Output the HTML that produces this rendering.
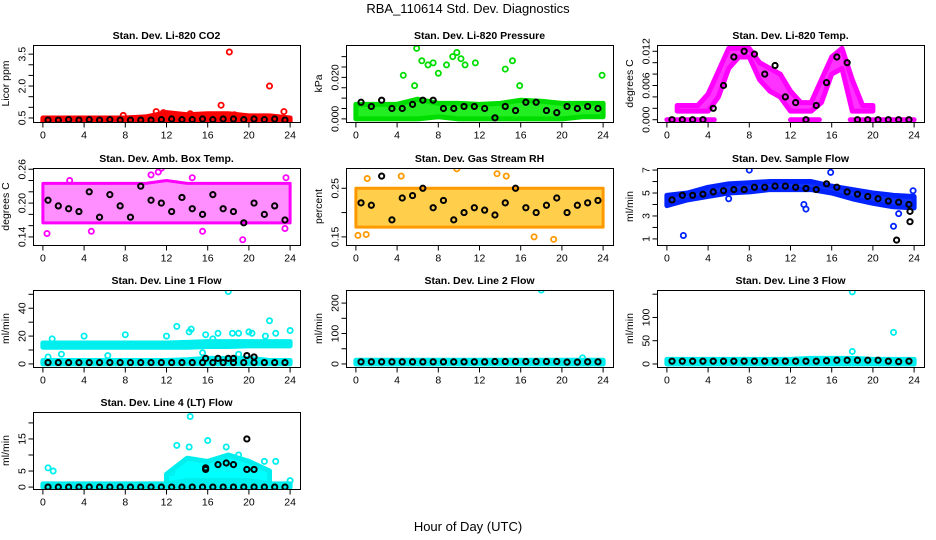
<!DOCTYPE html>
<html><head><meta charset="utf-8"><style>
body{margin:0;background:#fff}
svg{display:block;font-family:"Liberation Sans",sans-serif}
.t{font-weight:bold;font-size:10.5px}
.tk{font-size:10.5px}
</style></head><body>
<svg id="c" width="936" height="540" viewBox="0 0 936 540">
<text x="468" y="13" text-anchor="middle" font-size="13">RBA_110614  Std. Dev. Diagnostics</text>
<text x="468" y="531" text-anchor="middle" font-size="13">Hour of Day (UTC)</text>
</svg>
<script>
const knotHours=[0,2,4,6,8,10,12,14,16,18,20,22,24];
const hourly=[0,1,2,3,4,5,6,7,8,9,10,11,12,13,14,15,16,17,18,19,20,21,22,23,24];
const blackHours=[0.5,1.5,2.5,3.5,4.5,5.5,6.5,7.5,8.5,9.5,10.5,11.5,12.5,13.5,14.5,15.5,16.5,17.5,18.5,19.5,20.5,21.5,22.5,23.5];
const xTicks=[0,4,8,12,16,20,24];

const co2Lo=[0.33,0.33,0.33,0.33,0.33,0.33,0.35,0.35,0.35,0.35,0.35,0.35,0.33];
const co2Hi=[0.5,0.5,0.5,0.5,0.5,0.55,0.75,0.65,0.7,0.7,0.6,0.6,0.5];
const co2Black=[0.4,0.4,0.42,0.4,0.42,0.4,0.42,0.4,0.4,0.4,0.4,0.42,0.45,0.42,0.42,0.45,0.42,0.45,0.45,0.42,0.45,0.42,0.45,0.4];
const co2Out=[[18.1,3.6],[22,2.0],[17.3,1.1],[23.4,0.8],[11,0.8],[11.7,0.75],[7.8,0.62],[14.3,0.7],[18.6,0.65]];

const presLo=[0,0,0,0,0.001,0,0,0,0,0,0,0.001,0.001];
const presHi=[0.007,0.007,0.007,0.0095,0.0075,0.0075,0.007,0.0075,0.009,0.0085,0.0075,0.0075,0.0075];
const presBlack=[0.008,0.006,0.009,0.005,0.005,0.007,0.009,0.009,0.005,0.005,0.006,0.006,0.005,0.0005,0.006,0.004,0.008,0.008,0.004,0.003,0.006,0.005,0.006,0.005];
const presOut=[[5.9,0.034],[6.4,0.028],[7,0.026],[7.5,0.027],[8,0.022],[8.8,0.026],[9.4,0.030],[9.8,0.032],[10.2,0.029],[10.6,0.026],[11.6,0.027],[14.5,0.024],[15.2,0.028],[15.9,0.016],[4.6,0.021],[5.7,0.016],[23.9,0.021]];

const tempHi=[null,0.0025,0.0025,0.0025,0.0045,0.0085,0.0125,0.0125,0.0125,0.010,0.009,0.008,0.005,0.003,0.003,0.007,0.011,0.0125,0.007,0.0025,0.0025,null,null,null,null];
const tempLo=[null,0.0015,0.0015,0.0015,0.0015,0.004,0.009,0.011,0.011,0.007,0.005,0.004,0.0015,0.0015,0.0015,0.003,0.008,0.009,0.0015,0.0015,0.0015,null,null,null,null];
const tempZeroRanges=[[0,4.6],[12,14.8],[17.8,24]];
const tempBlack=[0,0,0,0,0.002,0.006,0.011,0.012,0.0115,0.008,0.0095,0.004,0.003,0,0.0025,0.0065,0.011,0.01,0,0,0,0,0,0];

const ambLo=[0.165,0.165,0.165,0.165,0.165,0.165,0.165,0.165,0.165,0.165,0.165,0.165,0.165];
const ambHi=[0.235,0.235,0.235,0.235,0.235,0.235,0.24,0.235,0.235,0.235,0.235,0.235,0.235];
const ambBlack=[0.205,0.195,0.19,0.185,0.22,0.175,0.215,0.195,0.175,0.23,0.205,0.2,0.185,0.21,0.19,0.18,0.215,0.19,0.185,0.165,0.2,0.18,0.195,0.17];
const ambOut=[[0.4,0.146],[2.6,0.24],[4.7,0.15],[10.5,0.25],[11.2,0.255],[11.5,0.262],[14.5,0.245],[19.4,0.135],[23.6,0.245],[15.5,0.15],[23.5,0.155]];

const rhLo=[0.17,0.17,0.17,0.17,0.17,0.17,0.17,0.17,0.17,0.17,0.17,0.17,0.17];
const rhHi=[0.25,0.25,0.25,0.25,0.25,0.25,0.25,0.25,0.25,0.25,0.25,0.25,0.25];
const rhBlack=[0.22,0.215,0.275,0.185,0.23,0.235,0.25,0.21,0.225,0.185,0.2,0.21,0.205,0.195,0.22,0.25,0.21,0.2,0.215,0.23,0.2,0.215,0.22,0.225];
const rhOut=[[1.1,0.27],[4.4,0.275],[0.2,0.153],[1,0.155],[9.8,0.29],[13.7,0.28],[14.6,0.275],[19.2,0.145],[17.3,0.15]];

const flowLo=[3.9,4.4,4.7,5.0,5.1,5.3,5.3,5.3,5.0,4.5,4.1,3.8,3.7];
const flowHi=[4.8,5.0,5.5,5.8,5.9,6.0,6.0,6.0,5.6,5.3,5.0,4.8,4.7];
const flowBlack=[4.4,4.8,4.8,4.9,5.1,5.2,5.3,5.3,5.5,5.5,5.6,5.6,5.5,5.4,5.3,5.8,5.5,5.1,4.9,4.7,4.5,4.3,4.2,4.0];
const flowOut=[[1.6,1.3],[8,7],[15.9,6.8],[13.3,4.0],[13.5,3.6],[6,4.5],[22,2.1],[23.9,5.2],[22.5,3.2]];
const flowBlackOut=[[22.3,0.9],[23.6,2.5],[23.6,3.4]];

const l1Lo=[12,12,12,12,12,12,12,12,12.5,12.5,13,13,13];
const l1Hi=[15,15,15,15,15,15,15,15.5,16,16,16,16,16];
const l1Lo2=[0,0,0,0,0,0,0,0,0,0,0,0,0];
const l1Hi2=[2.5,2.5,2.5,2.5,2.5,2.5,2.5,3,4,4,4,2.5,2.5];
const l1Black=[1,1,1,1,1,1,1,1,1,1,1,1,1,1,1,1,1,1,1,1,1,1,1,1];
const l1Out=[[0.9,18],[4,20],[8,21],[6.3,6],[12,20],[13,27],[14.2,23],[14.4,25],[15.8,21],[17,22],[18,52],[18.4,22],[19,22],[20,23],[20.3,22],[22,31],[22.6,22],[24,24],[21.6,20],[16.5,18],[0.5,5],[1.8,7],[15.5,8],[19,7]];
const l1BlackOut=[[15.8,4],[17,4],[18,4],[18.5,4],[19.8,6],[20.5,5]];

const l2Lo=[0,0,0,0,0,0,0,0,0,0,0,0,0];
const l2Hi=[12,12,12,12,12,12,12,12,12,12,12,12,12];
const l2Black=[7,7,7,7,7,7,7,7,7,7,7,7,7,8,8,8,8,8,8,8,6,6,7,7];
const l2Out=[[18,243],[22,20]];

const l3Lo=[0,0,0,0,0,0,0,0,0,0,0,0,0];
const l3Hi=[10,10,10,10,10,10,10,12,12,12,10,10,10];
const l3Black=[6,6,6,6,6,6,6,6,6,6,6,6,6,6,6,7,8,8,8,8,8,6,5,6];
const l3Out=[[18,155],[22,68],[18,27]];

const l4Lo=[0,0,0,0,0,0,0,0,0,0,0,0,0];
const l4Hi=[1,1,1,1,1,1,1,1,1,1,1,1,1];
const l4CloudHours=[12,14,16,18,20,22];
const l4CloudLo=[1,2,2,2,2,1];
const l4CloudHi=[4,9,8,10,8,5];
const l4Black=[0,0,0,0,0,0,0,0,0,0,0,0,0,0,0,0,0,0,0,0,0,0,0,0];
const l4Out=[[0.5,6],[1,5],[14.3,22],[13,13],[14.2,12.5],[16,14.5],[17.8,12.5],[19,10],[22.6,8],[21.5,8],[12.5,4.5],[24,2]];
const l4BlackOut=[[15.8,6],[15.8,5.5],[17,7],[17.8,7.5],[18.5,7],[19.8,15],[19.8,5.5],[20.5,5.5]];

const NS='http://www.w3.org/2000/svg';
const svg=document.getElementById('c');
function mk(tag,attrs,parent){const e=document.createElementNS(NS,tag);for(const k in attrs)e.setAttribute(k,attrs[k]);(parent||svg).appendChild(e);return e;}

const colX=[33,346,657], rowY=[45,168,290,412], W=267, H=77;

const panels=[
 {name:'co2',title:'Stan. Dev. Li-820 CO2',ylab:'Licor ppm',c:0,r:0,ymin:0.31,ymax:3.93,ticks:[0.5,1,1.5,2,2.5,3,3.5],labels:[0.5,2,3.5],fmt:v=>v.toFixed(1),color:'#ff0000',fill:'#ff0000',bands:[[knotHours,co2Lo,co2Hi]],black:co2Black,out:co2Out,bout:[]},
 {name:'pressure',title:'Stan. Dev. Li-820 Pressure',ylab:'kPa',c:1,r:0,ymin:-0.0015,ymax:0.0356,ticks:[0,0.005,0.01,0.015,0.02,0.025,0.03],labels:[0,0.02],fmt:v=>v.toFixed(3),color:'#00dd00',fill:'#22ee22',bands:[[knotHours,presLo,presHi]],black:presBlack,out:presOut,bout:[]},
 {name:'temp',title:'Stan. Dev. Li-820 Temp.',ylab:'degrees C',c:2,r:0,ymin:-0.0004,ymax:0.0131,ticks:[0,0.002,0.004,0.006,0.008,0.01,0.012],labels:[0,0.006,0.012],fmt:v=>v.toFixed(3),color:'#ff00ff',fill:'#ff33ff',bands:[[hourly,tempLo,tempHi]],zero:tempZeroRanges,black:tempBlack,out:[],bout:[]},
 {name:'amb-temp',title:'Stan. Dev. Amb. Box Temp.',ylab:'degrees C',c:0,r:1,ymin:0.1257,ymax:0.2622,ticks:[0.14,0.16,0.18,0.2,0.22,0.24,0.26],labels:[0.14,0.2,0.26],fmt:v=>v.toFixed(2),color:'#ff00ff',fill:'#ff44ff',op:0.6,sw:3,bands:[[knotHours,ambLo,ambHi]],black:ambBlack,out:ambOut,bout:[]},
 {name:'rh',title:'Stan. Dev. Gas Stream RH',ylab:'percent',c:1,r:1,ymin:0.1333,ymax:0.2917,ticks:[0.15,0.2,0.25],labels:[0.15,0.25],fmt:v=>v.toFixed(2),color:'#ff9900',fill:'#ffbb00',op:0.7,sw:3,bands:[[knotHours,rhLo,rhHi]],black:rhBlack,out:rhOut,bout:[]},
 {name:'sample-flow',title:'Stan. Dev. Sample Flow',ylab:'ml/min',c:2,r:1,ymin:0.47,ymax:7.18,ticks:[1,2,3,4,5,6,7],labels:[1,3,5,7],fmt:v=>String(v),color:'#0022ff',fill:'#1133ff',bands:[[knotHours,flowLo,flowHi]],black:flowBlack,out:flowOut,bout:flowBlackOut},
 {name:'line1-flow',title:'Stan. Dev. Line 1 Flow',ylab:'ml/min',c:0,r:2,ymin:-2.2,ymax:53.1,ticks:[0,10,20,30,40,50],labels:[0,20,40],fmt:v=>String(v),color:'#00eeee',fill:'#00ffff',bands:[[knotHours,l1Lo,l1Hi],[knotHours,l1Lo2,l1Hi2]],black:l1Black,out:l1Out,bout:l1BlackOut},
 {name:'line2-flow',title:'Stan. Dev. Line 2 Flow',ylab:'ml/min',c:1,r:2,ymin:-10,ymax:243,ticks:[0,50,100,150,200],labels:[0,100,200],fmt:v=>String(v),color:'#00eeee',fill:'#00ffff',bands:[[knotHours,l2Lo,l2Hi]],black:l2Black,out:l2Out,bout:[]},
 {name:'line3-flow',title:'Stan. Dev. Line 3 Flow',ylab:'ml/min',c:2,r:2,ymin:-6.5,ymax:159,ticks:[0,50,100,150],labels:[0,50,100],fmt:v=>String(v),color:'#00eeee',fill:'#00ffff',bands:[[knotHours,l3Lo,l3Hi]],black:l3Black,out:l3Out,bout:[]},
 {name:'line4-flow',title:'Stan. Dev. Line 4 (LT) Flow',ylab:'ml/min',c:0,r:3,ymin:-0.6,ymax:23.4,ticks:[0,5,10,15,20],labels:[0,5,15],fmt:v=>String(v),color:'#00eeee',fill:'#00ffff',bands:[[knotHours,l4Lo,l4Hi],[l4CloudHours,l4CloudLo,l4CloudHi]],black:l4Black,out:l4Out,bout:l4BlackOut}
];

panels.forEach(p=>{
  const x0=colX[p.c], y0=rowY[p.r];
  const g=mk('g',{});
  
  
  const X=h=>x0+W*(h+0.96)/25.92;
  const Y=v=>y0+H-(v-p.ymin)/(p.ymax-p.ymin)*H;
  const clipId='clip-'+p.name;
  const cp=mk('clipPath',{id:clipId},g);
  mk('rect',{x:x0,y:y0,width:W,height:H},cp);
  const inner=mk('g',{'clip-path':'url(#'+clipId+')'},g);
  p.bands.forEach(b=>{
    const [hs,lo,hi]=b;
    let seg=[];
    const flush=()=>{
      if(seg.length>1){
        const pts=seg.map(i=>X(hs[i])+','+Y(hi[i])).concat(seg.slice().reverse().map(i=>X(hs[i])+','+Y(lo[i])));
        const poly=mk('polygon',{points:pts.join(' '),fill:p.fill,'fill-opacity':p.op||1,stroke:p.color,'stroke-width':p.sw||5,'stroke-linejoin':'round'},inner);
        
        
      }
      seg=[];
    };
    hs.forEach((h,i)=>{ if(hi[i]===null||lo[i]===null) flush(); else seg.push(i); });
    flush();
  });
  if(p.zero){
    p.zero.forEach(z=>{
      const l=mk('line',{x1:X(z[0]),x2:X(z[1]),y1:Y(0),y2:Y(0),stroke:p.color,'stroke-width':5,'stroke-linecap':'round'},inner);
      
      
    });
  }
  p.out.forEach(o=>{
    const c=mk('circle',{cx:X(o[0]),cy:Y(o[1]),r:2.6,fill:'none',stroke:p.color,'stroke-width':1.8},inner);
    
    
  });
  p.black.forEach((v,i)=>{
    const c=mk('circle',{cx:X(blackHours[i]),cy:Y(v),r:2.6,fill:'none',stroke:'#000','stroke-width':2},inner);
    
    
  });
  p.bout.forEach(o=>{
    const c=mk('circle',{cx:X(o[0]),cy:Y(o[1]),r:2.6,fill:'none',stroke:'#000','stroke-width':2},inner);
    
    
  });
  const box=mk('rect',{x:x0+0.5,y:y0+0.5,width:W,height:H,fill:'none',stroke:'#000','stroke-width':1},g);
  
  
  const t=mk('text',{x:x0+W/2,y:y0-6,'text-anchor':'middle',class:'t'},g);
  t.textContent=p.title;
  
  
  const by=y0+H+0.5;
  xTicks.forEach(h=>{
    mk('line',{x1:X(h),x2:X(h),y1:by,y2:by+5,stroke:'#000'},g);
    const tx=mk('text',{x:X(h),y:by+16,'text-anchor':'middle',class:'tk'},g);
    tx.textContent=h;
    
    
  });
  const lx=x0+0.5;
  p.ticks.forEach(v=>{
    mk('line',{x1:lx,x2:lx-5,y1:Y(v),y2:Y(v),stroke:'#000'},g);
  });
  p.labels.forEach(v=>{
    const ty=mk('text',{x:0,y:0,'text-anchor':'middle',class:'tk',transform:'translate('+(lx-8)+','+Y(v)+') rotate(-90)'},g);
    ty.textContent=p.fmt(v);
    
    
  });
  const yl=mk('text',{x:0,y:0,'text-anchor':'middle',class:'tk',transform:'translate('+(x0-24)+','+(y0+H/2)+') rotate(-90)'},g);
  yl.textContent=p.ylab;
  
  
});
</script>
</body></html>
